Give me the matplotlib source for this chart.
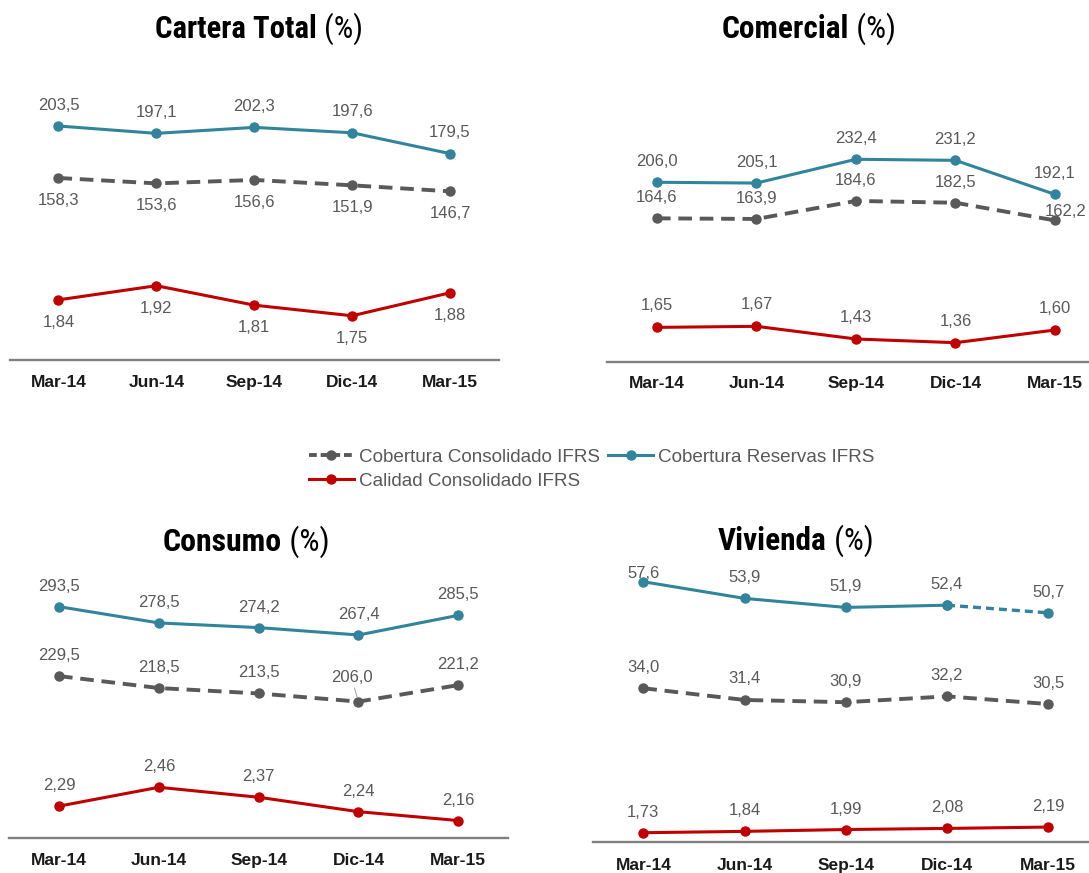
import matplotlib
matplotlib.use('Agg')
import matplotlib.pyplot as plt
from matplotlib import font_manager
from matplotlib.lines import Line2D

# ---------------- data ----------------
categories = ['Mar-14', 'Jun-14', 'Sep-14', 'Dic-14', 'Mar-15']

cartera_cons = [158.3, 153.6, 156.6, 151.9, 146.7]
cartera_res = [203.5, 197.1, 202.3, 197.6, 179.5]
cartera_cal = [1.84, 1.92, 1.81, 1.75, 1.88]

comercial_cons = [164.6, 163.9, 184.6, 182.5, 162.2]
comercial_res = [206.0, 205.1, 232.4, 231.2, 192.1]
comercial_cal = [1.65, 1.67, 1.43, 1.36, 1.60]

consumo_cons = [229.5, 218.5, 213.5, 206.0, 221.2]
consumo_res = [293.5, 278.5, 274.2, 267.4, 285.5]
consumo_cal = [2.29, 2.46, 2.37, 2.24, 2.16]

vivienda_cons = [34.0, 31.4, 30.9, 32.2, 30.5]
vivienda_res = [57.6, 53.9, 51.9, 52.4, 50.7]
vivienda_cal = [1.73, 1.84, 1.99, 2.08, 2.19]

legend_labels = ['Cobertura Consolidado IFRS', 'Calidad Consolidado IFRS', 'Cobertura Reservas IFRS']

# ---------------- style ----------------
avail = {f.name for f in font_manager.fontManager.ttflist}
BASE = 'Liberation Sans' if 'Liberation Sans' in avail else 'DejaVu Sans'
NARROW = next((n for n in ['Liberation Sans Narrow', 'Arial Narrow', 'Roboto Condensed'] if n in avail), BASE)
plt.rcParams['font.family'] = [BASE, 'DejaVu Sans']

BLUE = '#31849B'
GREY = '#595959'
RED = '#C00000'
LABEL_C = '#595959'
AXIS_C = '#808080'

W, H = 1089, 873
fig = plt.figure(figsize=(W / 100, H / 100), dpi=100)
fig.patch.set_facecolor('white')


def fmt(v, d):
    return f"{v:.{d}f}".replace('.', ',')


def px_axes(left, right, bottom, top):
    return fig.add_axes([left / W, 1 - bottom / H, (right - left) / W, (bottom - top) / H])


def panel(box, ylim1, ylim2, cons, res, cal, offs, tickpad, special=None, viv=False):
    left, right, bottom, top = box
    ax = px_axes(left, right, bottom, top)
    ax2 = ax.twinx()
    x = list(range(len(categories)))
    for a in (ax, ax2):
        a.set_xlim(-0.5, len(categories) - 0.5)
        a.set_yticks([])
        for s in a.spines.values():
            s.set_visible(False)
        a.patch.set_visible(False)
    ax.set_ylim(*ylim1)
    ax2.set_ylim(*ylim2)
    ax.spines['bottom'].set_visible(True)
    ax.spines['bottom'].set_color(AXIS_C)
    ax.spines['bottom'].set_linewidth(1.7)
    ax.set_xticks(x)
    ax.set_xticklabels(categories, fontsize=12.5, fontweight='bold', color='#1a1a1a')
    ax.tick_params(axis='x', length=0, pad=tickpad)

    # grey dashed consolidated coverage
    ax.plot(x, cons, color=GREY, lw=2.8, dashes=(3.5, 2.0), marker='o', ms=6.5,
            clip_on=False, zorder=3)
    # blue reserves coverage
    if viv:
        ax.plot(x[:-1], res[:-1], color=BLUE, lw=2.2, marker='o', ms=6.5, clip_on=False, zorder=4)
        ax.plot(x[-2:], res[-2:], color=BLUE, lw=2.4, dashes=(2.4, 1.5), marker='o', ms=6.5,
                clip_on=False, zorder=4)
    else:
        ax.plot(x, res, color=BLUE, lw=2.2, marker='o', ms=6.5, clip_on=False, zorder=4)
    # red quality
    ax2.plot(x, cal, color=RED, lw=2.2, marker='o', ms=6.5, clip_on=False, zorder=4)

    o_res, o_cons, o_cal = offs
    for i in x:
        dx, dy = 0, o_res
        if special and ('res', i) in special:
            dx, dy = special[('res', i)]
        ax.annotate(fmt(res[i], 1), (i, res[i]), xytext=(dx, dy), textcoords='offset pixels',
                    ha='center', va='center', fontsize=12, color=LABEL_C, annotation_clip=False)
        dx, dy = 0, o_cons
        arrow = None
        if special and ('cons', i) in special:
            dx, dy = special[('cons', i)][:2]
            if len(special[('cons', i)]) > 2:
                arrow = dict(arrowstyle='-', color='#a0a0a0', lw=0.7, shrinkA=0, shrinkB=3)
        ax.annotate(fmt(cons[i], 1), (i, cons[i]), xytext=(dx, dy), textcoords='offset pixels',
                    ha='center', va='center', fontsize=12, color=LABEL_C, annotation_clip=False,
                    arrowprops=arrow)
        ax2.annotate(fmt(cal[i], 2), (i, cal[i]), xytext=(0, o_cal), textcoords='offset pixels',
                     ha='center', va='center', fontsize=12, color=LABEL_C, annotation_clip=False)
    return ax, ax2


# Panel 1: Cartera Total
panel((9.5, 499, 360, 60), (0, 260.9), (1.5, 3.196),
      cartera_cons, cartera_res, cartera_cal, (21, -22.5, -22.5), 10.5)
# Panel 2: Comercial
panel((607.2, 1104.7, 361.7, 60), (0, 346.4), (1.0, 6.714),
      comercial_cons, comercial_res, comercial_cal, (20.5, 20.5, 21.5), 10.5,
      special={('cons', 4): (10.5, 9)})
# Panel 3: Consumo
panel((9.1, 508.2, 838.3, 565), (80, 331.9), (2.0, 4.464),
      consumo_cons, consumo_res, consumo_cal, (20.5, 20.5, 20.5), 10.5,
      special={('cons', 3): (-7, 24, True)})
# Panel 4: Vivienda
panel((592.7, 1098.9, 841.7, 565), (0, 61.3), (1.0, 23.5),
      vivienda_cons, vivienda_res, vivienda_cal, (20.5, 21, 20.5), 12,
      special={('res', 0): (0, 8.5)}, viv=True)


# ---------------- titles ----------------
def title(cx, cy, bold, regular, target_w):
    size = 20
    t1 = fig.text(0, 0, bold, family=[NARROW, 'DejaVu Sans'], fontweight='bold', fontsize=size,
                  va='center', ha='left', color='black')
    t2 = fig.text(0, 0, regular, family=[NARROW, 'DejaVu Sans'], fontsize=size,
                  va='center', ha='left', color='black')
    r = fig.canvas.get_renderer()
    w = t1.get_window_extent(r).width + t2.get_window_extent(r).width
    size = size * target_w / w
    t1.set_fontsize(size)
    t2.set_fontsize(size)
    w1 = t1.get_window_extent(r).width
    w2 = t2.get_window_extent(r).width
    x0 = cx - (w1 + w2) / 2
    t1.set_position((x0 / W, 1 - cy / H))
    t2.set_position(((x0 + w1) / W, 1 - cy / H))


title(259, 29, 'Cartera Total', ' (%)', 208)
title(808.7, 29, 'Comercial', ' (%)', 174)
title(246.1, 542, 'Consumo', ' (%)', 167)
title(795.7, 541, 'Vivienda', ' (%)', 155)

# ---------------- legend ----------------
h_cons = Line2D([], [], color=GREY, lw=2.8, dashes=(2.0, 1.0), marker='o', ms=6.5)
h_cal = Line2D([], [], color=RED, lw=2.2, marker='o', ms=6.5)
h_res = Line2D([], [], color=BLUE, lw=2.2, marker='o', ms=6.5)
fig.legend([h_cons, h_cal, h_res], legend_labels, ncol=2, loc='center',
           bbox_to_anchor=(591.5 / W, 1 - 469 / H), frameon=False, fontsize=13.6,
           handlelength=2.4, handletextpad=0.25, columnspacing=0.45, labelspacing=0.35,
           labelcolor=LABEL_C, borderpad=0.2)

fig.savefig('out.png', dpi=100, facecolor='white')
